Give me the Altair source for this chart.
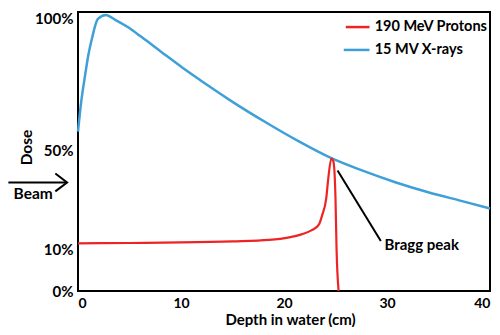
import altair as alt
import pandas as pd

# X-ray depth-dose curve (depth cm, dose on the chart's schematic scale)
xray_depth = [0, 0.3, 0.68, 1.0, 1.35, 1.93, 2.71, 3.57, 4.83, 6.18, 8.12, 10.05, 11.98,
              13.2, 15.0, 18.3, 21.4, 24.6, 27.5, 30.8, 34.0, 37.2, 40.0]
xray_dose = [57.1, 67.5, 77.1, 84.5, 90.4, 97.5, 98.9, 97.3, 94.6, 91.0, 85.6, 80.3, 75.3,
             72.2, 67.8, 60.3, 53.7, 47.6, 43.3, 39.0, 35.4, 32.3, 29.6]

# Proton depth-dose curve
proton_depth = [0, 5, 10, 15, 18.55, 20.5, 21.7, 22.7, 23.4, 23.7, 24.1, 24.3, 24.6,
                24.8, 25.0, 25.1, 25.3]
proton_dose = [17.1, 17.2, 17.4, 17.8, 18.3, 19.2, 20.3, 21.8, 23.9, 27.1, 33.2, 40.4, 47.5,
               46.4, 33.2, 15.4, 0]

series_names = ["190 MeV Protons", "15 MV X-rays"]
series_colors = ["#ee2424", "#3fa0d8"]

x_ticks = [0, 10, 20, 30, 40]
y_tick_pos = [0, 15.0, 50.4, 97.6]
y_tick_labels = ["0%", "10%", "50%", "100%"]

# annotation geometry in data units
bragg_line_x = [25.2, 29.4]
bragg_line_y = [43.2, 17.9]
bragg_text = "Bragg peak"
bragg_text_x = [29.75]
bragg_text_y = [16.6]

legend_x1 = [26.0, 25.8]
legend_x2 = [28.3, 28.3]
legend_y = [94.6, 86.4]
legend_text_x = 28.8

beam_shaft_x = [-6.76, -1.06]
beam_shaft_y = [38.9, 38.9]
beam_head_x = [-2.2, -1.06, -2.2]
beam_head_y = [42.1, 38.9, 35.7]
beam_label = "Beam"
beam_label_x = [-4.35]
beam_label_y = [34.6]

FONT = "Lato"

curves = pd.concat([
    pd.DataFrame({"depth": proton_depth, "dose": proton_dose, "series": series_names[0], "order": range(len(proton_depth))}),
    pd.DataFrame({"depth": xray_depth, "dose": xray_dose, "series": series_names[1], "order": range(len(xray_depth))}),
])

xscale = alt.Scale(domain=[0, 40], nice=False, zero=False)
yscale = alt.Scale(domain=[0, 100], nice=False, zero=False)
color = alt.Color("series:N", scale=alt.Scale(domain=series_names, range=series_colors), legend=None)

label_expr = " : ".join(
    f"abs(datum.value - {p}) < 0.01 ? '{l}'" for p, l in zip(y_tick_pos, y_tick_labels)
) + " : ''"

x_enc = alt.X("depth:Q", scale=xscale, axis=alt.Axis(
    values=x_ticks, title="Depth in water (cm)", domain=False, ticks=False, grid=False,
    labelFont=FONT, labelFontWeight="bold", labelFontSize=14, labelColor="black", labelPadding=5,
    titleFont=FONT, titleFontWeight="bold", titleFontSize=15, titleColor="black",
    titleX=212, titleY=33, titleBaseline="alphabetic"))
y_enc = alt.Y("dose:Q", scale=yscale, axis=alt.Axis(
    values=y_tick_pos, labelExpr=label_expr, title="Dose", domain=False, ticks=False, grid=False,
    labelFont=FONT, labelFontWeight="bold", labelFontSize=15, labelColor="black", labelPadding=5,
    titleFont=FONT, titleFontWeight="bold", titleFontSize=15.5, titleColor="black",
    titleX=-52, titleY=135, titleBaseline="middle"))

xray_layer = alt.Chart(curves[curves.series == series_names[1]]).mark_line(
    strokeWidth=2.5, interpolate="monotone").encode(x=x_enc, y=y_enc, color=color, order="order:Q")
proton_layer = alt.Chart(curves[curves.series == series_names[0]]).mark_line(
    strokeWidth=2.2, interpolate="monotone").encode(x="depth:Q", y="dose:Q", color=color, order="order:Q")

bragg_df = pd.DataFrame({"depth": bragg_line_x, "dose": bragg_line_y})
bragg_line = alt.Chart(bragg_df).mark_line(color="black", strokeWidth=2).encode(x="depth:Q", y="dose:Q")
bragg_lbl = alt.Chart(pd.DataFrame({"depth": bragg_text_x, "dose": bragg_text_y, "t": [bragg_text]})).mark_text(
    align="left", baseline="middle", font=FONT, fontWeight="bold", fontSize=15, color="black"
).encode(x="depth:Q", y="dose:Q", text="t:N")

leg_df = pd.DataFrame({"series": series_names, "x1": legend_x1, "x2": legend_x2, "y": legend_y,
                       "tx": [legend_text_x] * 2})
leg_lines = alt.Chart(leg_df).mark_rule(strokeWidth=2.5).encode(
    x="x1:Q", x2="x2:Q", y="y:Q", color=color)
leg_text = alt.Chart(leg_df).mark_text(
    align="left", baseline="middle", font=FONT, fontWeight="bold", fontSize=14.5, color="black"
).encode(x="tx:Q", y="y:Q", text="series:N")

shaft = alt.Chart(pd.DataFrame({"depth": beam_shaft_x, "dose": beam_shaft_y})).mark_line(
    color="black", strokeWidth=2).encode(x="depth:Q", y="dose:Q")
head = alt.Chart(pd.DataFrame({"depth": beam_head_x, "dose": beam_head_y, "o": [0, 1, 2]})).mark_line(
    color="black", strokeWidth=2).encode(x="depth:Q", y="dose:Q", order="o:Q")
beam_txt = alt.Chart(pd.DataFrame({"depth": beam_label_x, "dose": beam_label_y, "t": [beam_label]})).mark_text(
    align="center", baseline="middle", font=FONT, fontWeight="bold", fontSize=15.5, color="black"
).encode(x="depth:Q", y="dose:Q", text="t:N")

chart = alt.layer(
    xray_layer, proton_layer, bragg_line, bragg_lbl, leg_lines, leg_text, shaft, head, beam_txt
).properties(
    width=412, height=279,
    background="white",
    autosize=alt.AutoSizeParams(type="none"),
    padding={"left": 70, "top": 4, "right": 2, "bottom": 36},
).configure_view(stroke="black", strokeWidth=2)

chart.save("out.html", embed_options={"renderer": "svg", "actions": False})
